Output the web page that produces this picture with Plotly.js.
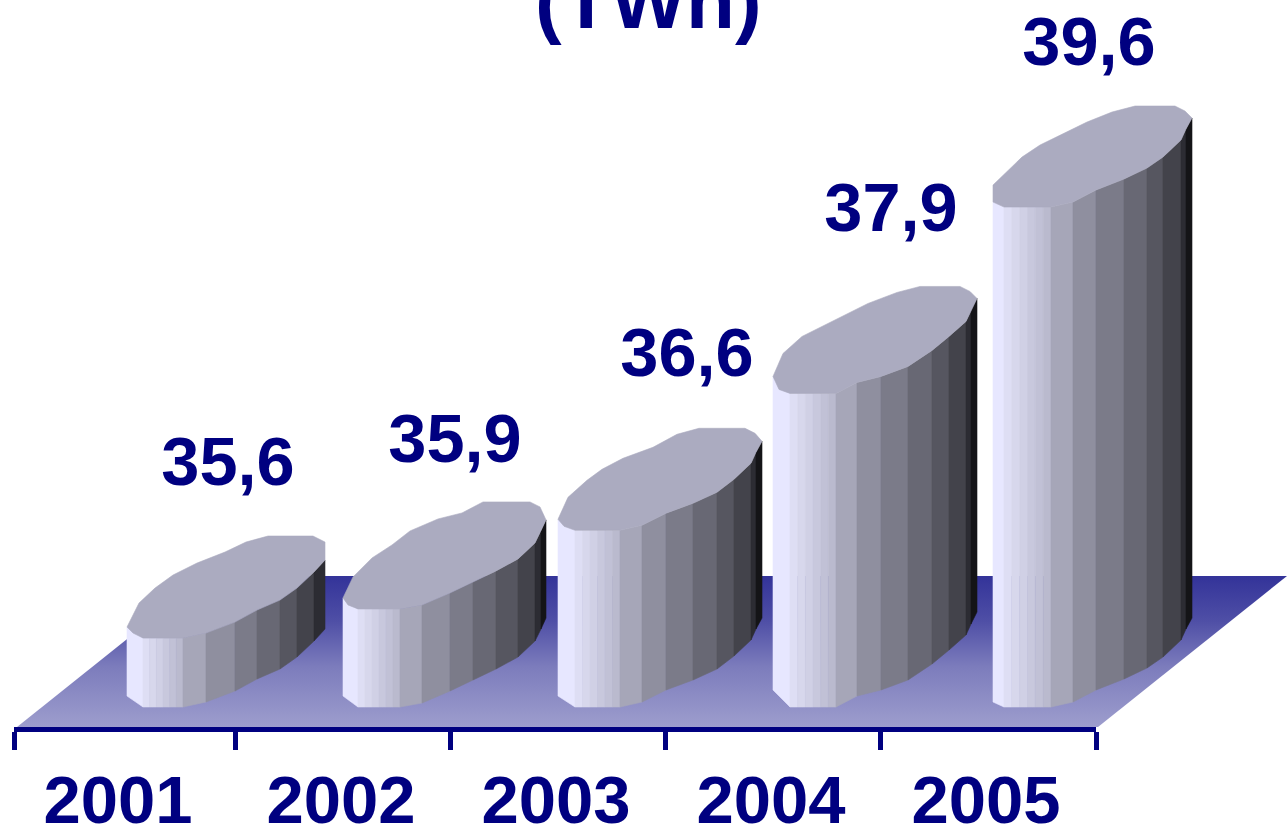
<!DOCTYPE html>
<html><head><meta charset="utf-8">
<script src="https://cdn.plot.ly/plotly-3.0.1.min.js"></script>
<style>html,body{margin:0;padding:0;background:#fff;overflow:hidden}#c{width:1287px;height:827px}</style>
</head><body><div id="c"></div>
<script>
// ---- chart data ----
const years  = ['2001','2002','2003','2004','2005'];
const values = [35.6, 35.87, 36.6, 37.87, 39.6];   // TWh, bar heights
const titleText = '(TWh)';

// ---- projection: page pixels <-> axis units ----
const X0 = 14, UNIT_X = 216.4, BASE_PX = 707, BASE_VAL = 34.96, UNIT_Y = 107.75, AXIS_PX = 727;
const ux = px => (px - X0) / UNIT_X;
const uy = px => BASE_VAL + (BASE_PX - px) / UNIT_Y;
const dv = d => -d / UNIT_Y;            // pixel offset as a value offset

// ---- cylinder outline, per bar: offsets from the bar's flat front edge ----
const frontX = [
 [127,143,183,206,235,257,280,297,314,325],
 [343,358,400,422,450,473,496,518,535,541,546],
 [558,575,620,642,666,693,717,734,751,756,762],
 [773,790,836,857,881,908,932,949,966,971,977],
 [993,1004,1051,1073,1096,1124,1147,1163,1181,1186,1192]];
const frontDy = [
 [-11,0,0,-5,-16,-28,-38,-50,-66,-78],
 [-11,0,0,-4,-16,-27,-38,-50,-66,-78,-89],
 [-11,0,0,-5,-17,-27,-38,-51,-67,-78,-89],
 [-17,0,0,-11,-17,-27,-43,-57,-72,-83,-95],
 [-5,0,0,-5,-17,-28,-39,-50,-67,-78,-89]];
const backDx = [
 [12,28,46,70,98,119,141,186,198],
 [10,29,49,67,95,119,140,187,197],
 [10,29,44,65,95,119,141,187,197],
 [10,29,57,95,124,147,187,197],
 [0,29,47,94,119,142,182,192]];
const backDy = [
 [-35,-50,-63,-75,-86,-96,-102,-102,-96],
 [-32,-51,-64,-78,-90,-96,-107,-107,-102],
 [-33,-50,-61,-72,-83,-96,-102,-102,-97],
 [-40,-57,-71,-90,-101,-107,-107,-102],
 [-22,-50,-62,-85,-95,-101,-101,-96]];
const chamferDx = [6,5,6,6,0];
const chamferDy = [-5,-4,-4,-4,-5];
const labelPx = [228,455,687,891,1089];
const labelDy = [-170,-164,-171,-180,-159];
const catPx   = [118,341,556,771,986];
const tickPx  = [14,235,450,665,880,1096];

const stripColors = ['#e7e7ff',null,'#a6a6b8','#8f8f9f','#7b7b89','#686874','#565660','#43434b','#2c2c33','#141417'];
const flatFrom = [222,222,244], flatTo = [186,186,206]; // light flat front facet gradient
const topColor = '#ababc0';

const traces = [];
const poly = (x, y, color) => traces.push({type:'scatter', mode:'lines', x, y, fill:'toself', fillcolor:color,
  line:{color, width:0.6}, hoverinfo:'skip', showlegend:false, cliponaxis:false});

// floor
traces.push({type:'scatter', mode:'lines',
  x:[17,206,1287,1098,17].map(ux), y:[727,576,576,727,727].map(uy),
  fill:'toself', line:{width:0}, hoverinfo:'skip', showlegend:false, cliponaxis:false,
  fillgradient:{type:'vertical', start:uy(576), stop:uy(727),
    colorscale:[[0,'#333399'],[0.3,'#4f4fa6'],[0.6,'#7c7cbc'],[1,'#9d9dcd']]}});

// cylinders
values.forEach((v, b) => {
  const fx = frontX[b], fd = frontDy[b], top = v, base = BASE_VAL;
  for (let s = 0; s < fx.length - 1; s++) {
    const add = (x0, x1, d0, d1, c) => poly(
      [x0, x1, x1, x0, x0].map(ux),
      [top+dv(d0), top+dv(d1), base+dv(d1), base+dv(d0), top+dv(d0)], c);
    if (s === 1) {
      const n = 6;
      for (let k = 0; k < n; k++) {
        const t = k / (n - 1);
        const c = 'rgb(' + flatFrom.map((f, i) => Math.round(f + (flatTo[i] - f) * t)).join(',') + ')';
        add(fx[1] + (fx[2]-fx[1]) * k / n, fx[1] + (fx[2]-fx[1]) * (k+1) / n, 0, 0, c);
      }
    } else add(fx[s], fx[s+1], fd[s], fd[s+1], stripColors[s]);
  }
  // top face
  const left = fx[0];
  const xs = [left].concat(backDx[b].map(d => left + d), fx.slice(1).reverse(), [left + chamferDx[b], left]);
  const ds = [fd[0]].concat(backDy[b], fd.slice(1).reverse(), [chamferDy[b], fd[0]]);
  poly(xs.map(ux), ds.map(d => top + dv(d)), topColor);
});

// value labels (on the visible category axis)
traces.push({type:'scatter', mode:'text', xaxis:'x2', yaxis:'y', cliponaxis:false, hoverinfo:'skip', showlegend:false,
  x: labelPx.map(ux), y: values.map((v, i) => v + dv(labelDy[i])),
  text: values.map(v => v.toFixed(1).replace('.', ',')), textposition:'middle center',
  textfont:{family:'"Liberation Sans", Arial, sans-serif', size:68.5, color:'#000080', weight:700}});

const layout = {
  width:1287, height:827, margin:{l:0,r:0,t:0,b:0,pad:0}, paper_bgcolor:'#fff', plot_bgcolor:'rgba(0,0,0,0)',
  showlegend:false,
  xaxis:{domain:[0,1], range:[ux(0), ux(1287)], visible:false, showgrid:false, zeroline:false, anchor:'y'},
  xaxis2:{domain:[X0/1287, 1096/1287], range:[0, ux(1096)], anchor:'y', showgrid:false, zeroline:false,
    showline:true, linecolor:'#000080', linewidth:5,
    tickmode:'array', tickvals:catPx.map(ux), ticktext:years, ticks:'', ticklabelstandoff:11,
    tickfont:{family:'"Liberation Sans", Arial, sans-serif', size:67, color:'#000080', weight:700},
    minor:{tickmode:'array', tickvals:tickPx.map(ux), ticks:'outside', ticklen:18, tickwidth:5, tickcolor:'#000080', showgrid:false}},
  yaxis:{domain:[(827-AXIS_PX)/827, 1], range:[uy(AXIS_PX), uy(0)], visible:false, showgrid:false, zeroline:false},
  annotations:[{xref:'x', yref:'y', x:ux(648), y:uy(0), text:titleText, showarrow:false, xanchor:'center', yanchor:'middle',
    font:{family:'"Liberation Sans", Arial, sans-serif', size:80, color:'#000080', weight:700}}]
};
Plotly.newPlot('c', traces, layout, {staticPlot:true, displayModeBar:false});
</script></body></html>
